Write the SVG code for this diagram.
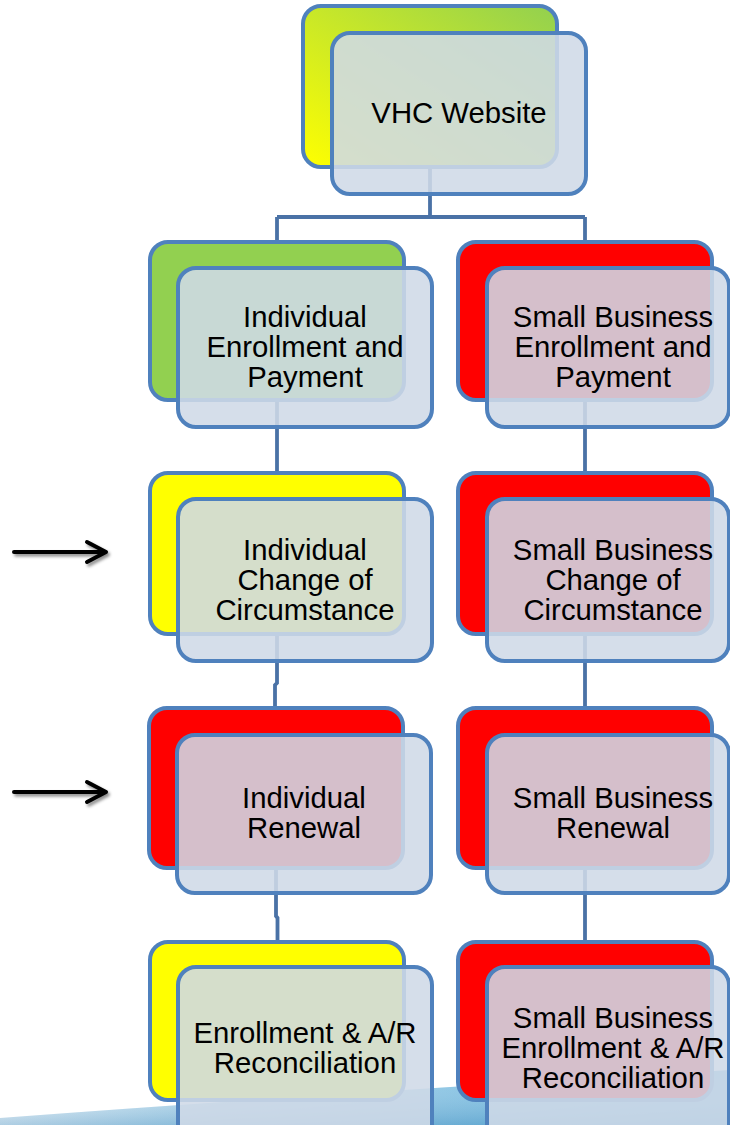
<svg xmlns="http://www.w3.org/2000/svg" width="730" height="1125" viewBox="0 0 730 1125">
  <style>
    .conn { fill: none; stroke: #4a72a6; stroke-width: 3.8; }
    .back { stroke: #4f81bd; stroke-width: 4; }
    .front { fill: rgb(207,218,231); fill-opacity: 0.88; stroke: #4f81bd; stroke-width: 4; }
    .green { fill: #92d050; }
    .yellow { fill: #ffff00; }
    .red { fill: #ff0000; }
    .label { font-family: "Liberation Sans", Arial, sans-serif; font-size: 29.3px; fill: #000; text-anchor: middle; }
    .pointer { fill: none; stroke: #000; stroke-width: 4; stroke-linecap: round; stroke-linejoin: round; }
  </style>
  <defs>
    <linearGradient id="topFill" x1="0" y1="1" x2="1" y2="0">
      <stop offset="0" stop-color="#ffff00"/>
      <stop offset="1" stop-color="#92d050"/>
    </linearGradient>
    <linearGradient id="swoosh" x1="0" y1="0" x2="1" y2="0">
      <stop offset="0" stop-color="#f4f9fc"/>
      <stop offset="0.3" stop-color="#b3d8ec"/>
      <stop offset="1" stop-color="#5fb1dc"/>
    </linearGradient>
    <linearGradient id="swooshShade" x1="0" y1="0" x2="0" y2="1">
      <stop offset="0" stop-color="#ffffff" stop-opacity="0"/>
      <stop offset="1" stop-color="#2f7fb5" stop-opacity="0.35"/>
    </linearGradient>
    <filter id="shadow" x="-20%" y="-50%" width="140%" height="200%">
      <feDropShadow dx="2" dy="2.5" stdDeviation="1.5" flood-color="#000" flood-opacity="0.45"/>
    </filter>
  </defs>

  <rect width="730" height="1125" fill="#ffffff"/>

  <!-- background band along the bottom edge -->
  <path d="M0,1125 L0,1118 Q320,1094 730,1070 L730,1125 Z" fill="url(#swoosh)"/>
  <path d="M0,1125 L0,1118 Q320,1094 730,1070 L730,1125 Z" fill="url(#swooshShade)"/>

  <!-- connectors -->
  <g id="connectors">
    <path class="conn" d="M430,150 V217 M277,217 H585 M277,217 V250 M585,217 V250"/>
    <path class="conn" d="M277,390 V480"/>
    <path class="conn" d="M277,620 V683 L275,685 V715"/>
    <path class="conn" d="M276,850 V916 L277.5,918 V950"/>
    <path class="conn" d="M585,390 V480 M585,620 V715 M585,850 V950"/>
  </g>

  <!-- VHC Website -->
  <g id="node-vhc">
    <rect class="back" x="303" y="6" width="254" height="161" rx="18" fill="url(#topFill)"/>
    <rect class="front" x="332" y="33" width="254" height="161" rx="18"/>
    <text class="label" x="459" y="123">VHC Website</text>
  </g>

  <!-- Individual column -->
  <g id="node-ind-enroll">
    <rect class="back green" x="150" y="242" width="254" height="158" rx="18"/>
    <rect class="front" x="178" y="268" width="254" height="159" rx="18"/>
    <text class="label" x="305"><tspan x="305" y="327">Individual</tspan><tspan x="305" y="357">Enrollment and</tspan><tspan x="305" y="387">Payment</tspan></text>
  </g>

  <g id="node-ind-change">
    <rect class="back yellow" x="150" y="473" width="254" height="161" rx="18"/>
    <rect class="front" x="178" y="499" width="254" height="162" rx="18"/>
    <text class="label" x="305"><tspan x="305" y="560">Individual</tspan><tspan x="305" y="590">Change of</tspan><tspan x="305" y="620">Circumstance</tspan></text>
  </g>

  <g id="node-ind-renewal">
    <rect class="back red" x="149" y="708" width="254" height="160" rx="18"/>
    <rect class="front" x="177" y="735" width="254" height="158" rx="18"/>
    <text class="label" x="304"><tspan x="304" y="808">Individual</tspan><tspan x="304" y="838">Renewal</tspan></text>
  </g>

  <g id="node-ind-recon">
    <rect class="back yellow" x="150" y="942" width="254" height="158" rx="18"/>
    <rect class="front" x="178" y="967" width="254" height="175" rx="18"/>
    <text class="label" x="305"><tspan x="305" y="1043">Enrollment &amp; A/R</tspan><tspan x="305" y="1073">Reconciliation</tspan></text>
  </g>

  <!-- Small Business column -->
  <g id="node-sb-enroll">
    <rect class="back red" x="458" y="242" width="254" height="158" rx="18"/>
    <rect class="front" x="487" y="268" width="242" height="159" rx="18"/>
    <text class="label" x="613"><tspan x="613" y="327">Small Business</tspan><tspan x="613" y="357">Enrollment and</tspan><tspan x="613" y="387">Payment</tspan></text>
  </g>

  <g id="node-sb-change">
    <rect class="back red" x="458" y="473" width="254" height="161" rx="18"/>
    <rect class="front" x="487" y="499" width="242" height="162" rx="18"/>
    <text class="label" x="613"><tspan x="613" y="560">Small Business</tspan><tspan x="613" y="590">Change of</tspan><tspan x="613" y="620">Circumstance</tspan></text>
  </g>

  <g id="node-sb-renewal">
    <rect class="back red" x="458" y="708" width="254" height="160" rx="18"/>
    <rect class="front" x="487" y="735" width="242" height="158" rx="18"/>
    <text class="label" x="613"><tspan x="613" y="808">Small Business</tspan><tspan x="613" y="838">Renewal</tspan></text>
  </g>

  <g id="node-sb-recon">
    <rect class="back red" x="458" y="942" width="254" height="158" rx="18"/>
    <rect class="front" x="487" y="967" width="242" height="175" rx="18"/>
    <text class="label" x="613"><tspan x="613" y="1028">Small Business</tspan><tspan x="613" y="1058">Enrollment &amp; A/R</tspan><tspan x="613" y="1088">Reconciliation</tspan></text>
  </g>

  <!-- side pointers -->
  <g id="pointer-change" filter="url(#shadow)">
    <path class="pointer" d="M14,552 H106 M87,542 L106,552 L87,562"/>
  </g>
  <g id="pointer-renewal" filter="url(#shadow)">
    <path class="pointer" d="M14,792 H106 M87,782 L106,792 L87,802"/>
  </g>
</svg>
